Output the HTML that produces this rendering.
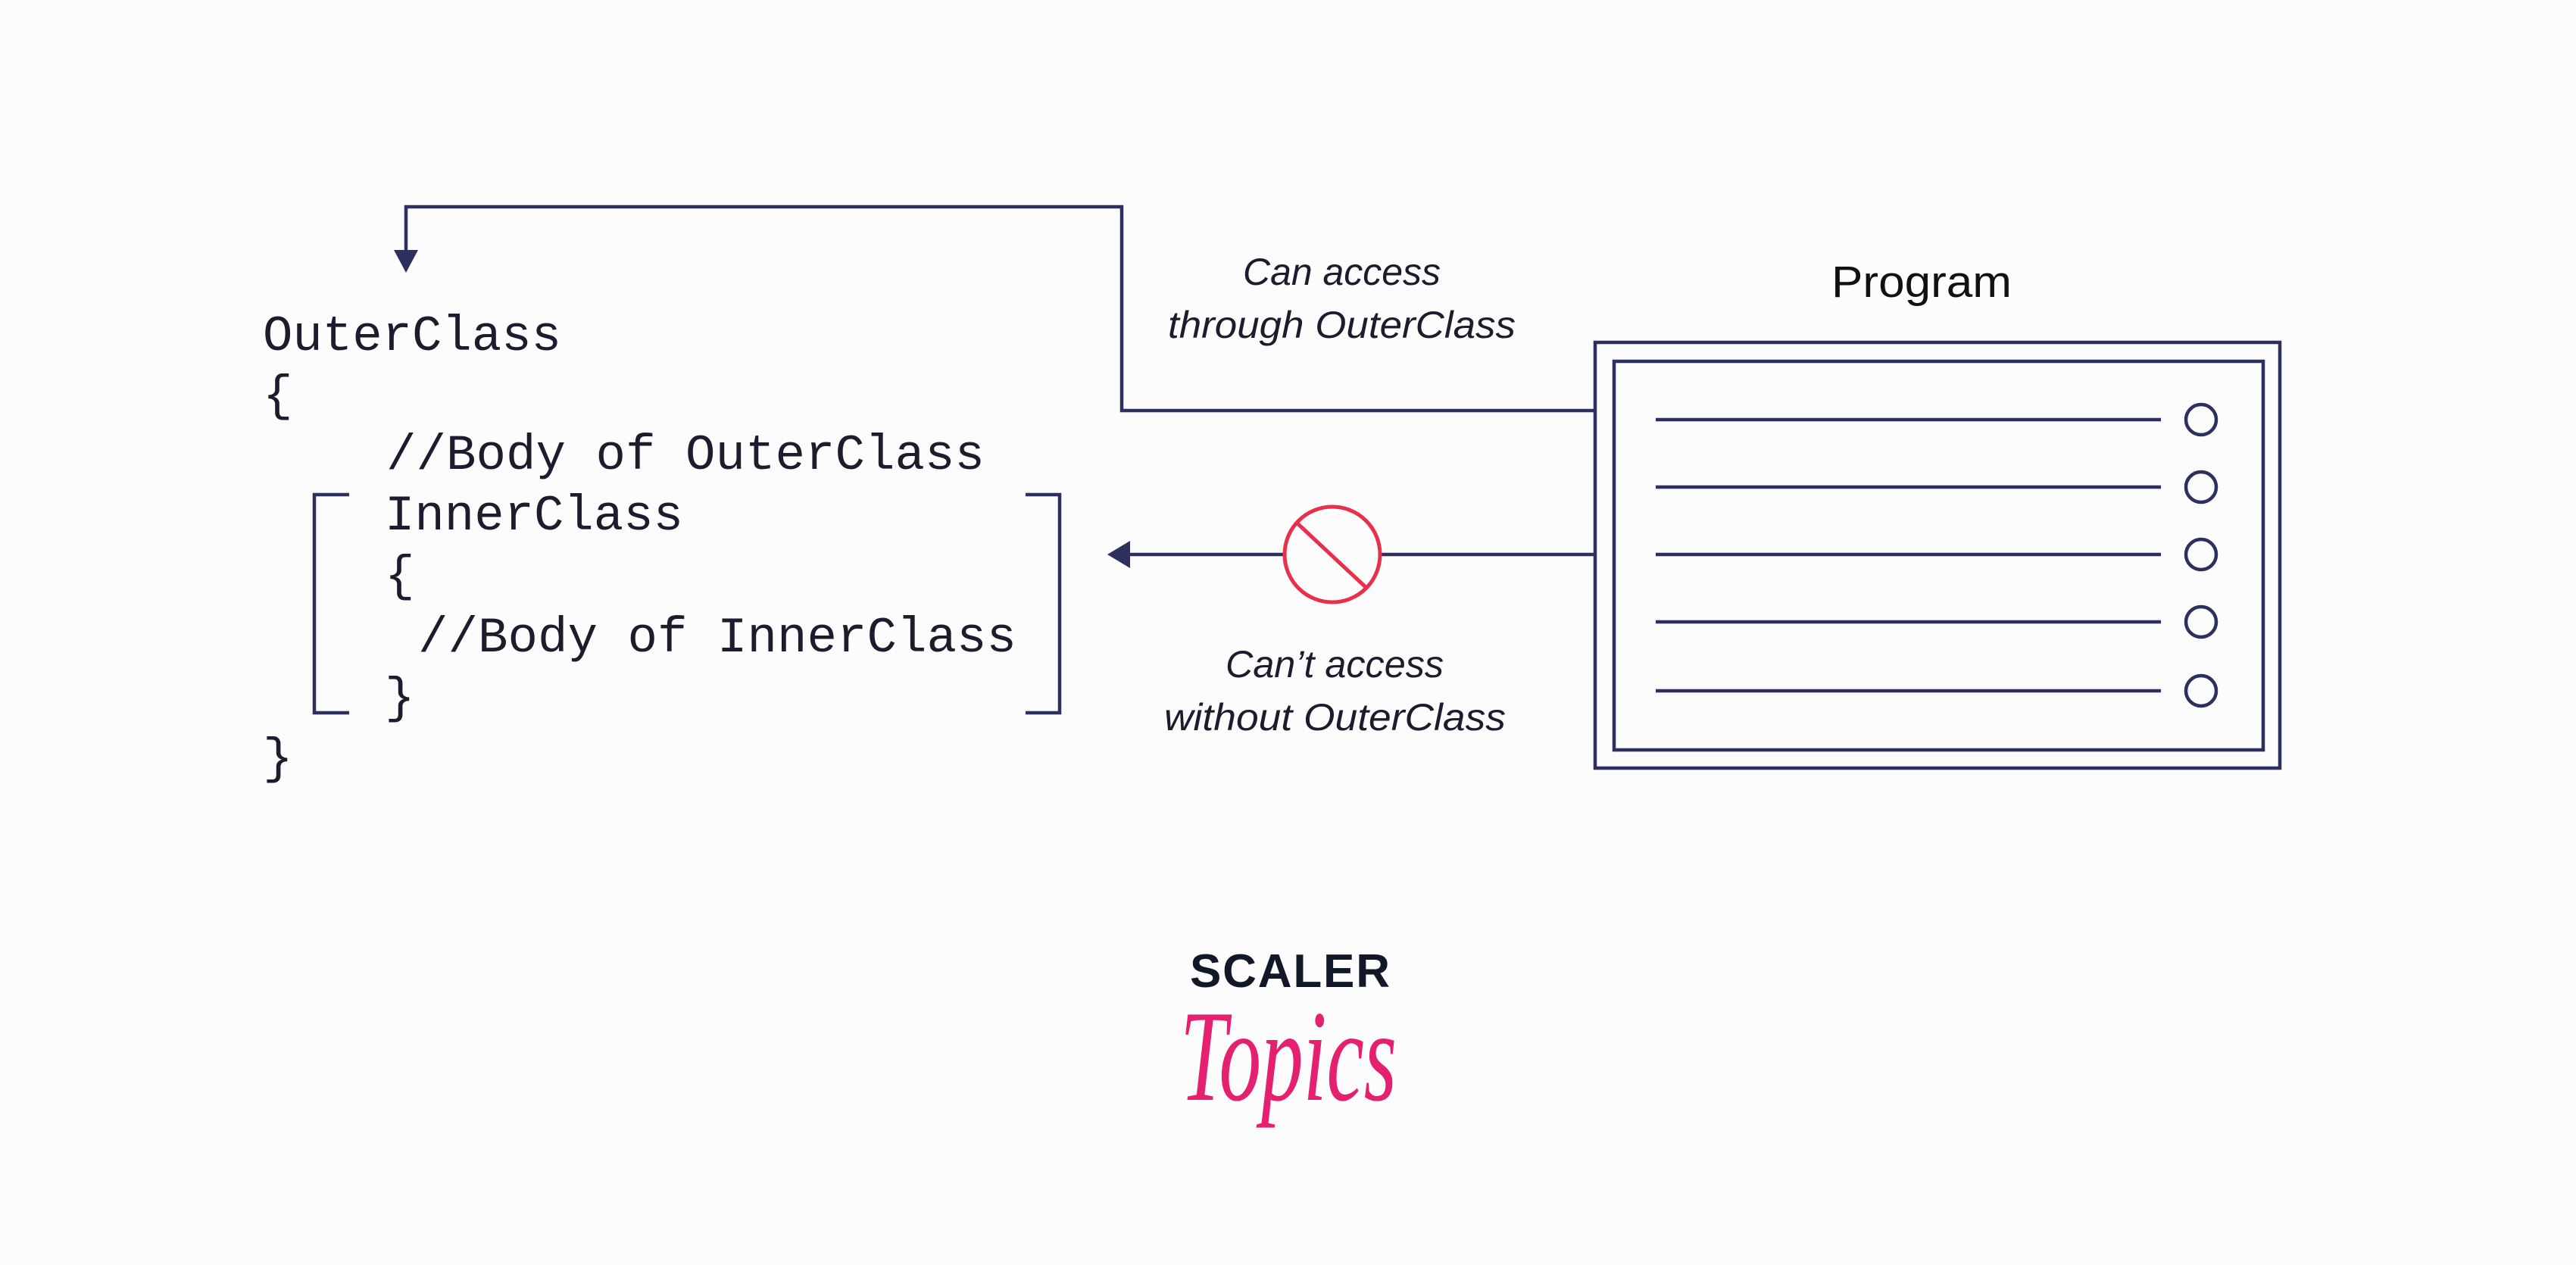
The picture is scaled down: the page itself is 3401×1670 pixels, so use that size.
<!DOCTYPE html>
<html><head><meta charset="utf-8"><style>
html,body{margin:0;padding:0;background:#fcfcfd;}
svg{display:block}
.code{font-family:"Liberation Mono",monospace;font-size:66px;fill:#1b1c2e}
.lab{font-family:"Liberation Sans",sans-serif;font-style:italic;font-size:50px;fill:#1b1c2e}
</style></head><body>
<svg width="3401" height="1670" viewBox="0 0 3401 1670" xmlns="http://www.w3.org/2000/svg">
<rect width="3401" height="1670" fill="#fcfcfd"/>
<g stroke="#2d2f5e" stroke-width="4.5" fill="none">
<polyline points="536,335 536,273 1481,273 1481,542 2106,542"/>
<line x1="1488" y1="732" x2="1695" y2="732"/>
<line x1="1823" y1="732" x2="2106" y2="732"/>
<rect x="2106" y="452" width="904" height="562"/>
<rect x="2131" y="477" width="857" height="513"/>
<line x1="2186" y1="554" x2="2853" y2="554"/>
<line x1="2186" y1="643" x2="2853" y2="643"/>
<line x1="2186" y1="732" x2="2853" y2="732"/>
<line x1="2186" y1="821" x2="2853" y2="821"/>
<line x1="2186" y1="912" x2="2853" y2="912"/>
<circle cx="2906" cy="554" r="20"/>
<circle cx="2906" cy="643" r="20"/>
<circle cx="2906" cy="732" r="20"/>
<circle cx="2906" cy="821" r="20"/>
<circle cx="2906" cy="912" r="20"/>
<polyline points="461,653 415,653 415,941 461,941"/>
<polyline points="1354,653 1399,653 1399,941 1354,941"/>
</g>
<polygon points="520,330 552,330 536,360" fill="#2d2f5e"/>
<polygon points="1462,732 1492,714 1492,750" fill="#2d2f5e"/>
<circle cx="1759" cy="732" r="63" fill="none" stroke="#e8304a" stroke-width="5"/>
<line x1="1713" y1="691" x2="1804" y2="776" stroke="#e8304a" stroke-width="5"/>
<text class="code" x="347" y="462" textLength="394" lengthAdjust="spacingAndGlyphs">OuterClass</text>
<text class="code" x="347" y="541">{</text>
<text class="code" x="510" y="619" textLength="790" lengthAdjust="spacingAndGlyphs">//Body of OuterClass</text>
<text class="code" x="508" y="699" textLength="394" lengthAdjust="spacingAndGlyphs">InnerClass</text>
<text class="code" x="508" y="779">{</text>
<text class="code" x="552" y="860" textLength="790" lengthAdjust="spacingAndGlyphs">//Body of InnerClass</text>
<text class="code" x="508" y="940">}</text>
<text class="code" x="347" y="1020">}</text>
<text class="lab" x="1641" y="376" textLength="261" lengthAdjust="spacingAndGlyphs">Can access</text>
<text class="lab" x="1542" y="446" textLength="459" lengthAdjust="spacingAndGlyphs">through OuterClass</text>
<text class="lab" x="1618" y="894" textLength="288" lengthAdjust="spacingAndGlyphs">Can’t access</text>
<text class="lab" x="1537" y="964" textLength="451" lengthAdjust="spacingAndGlyphs">without OuterClass</text>
<text x="2418" y="392" font-family="Liberation Sans,sans-serif" font-size="58" fill="#111" textLength="238" lengthAdjust="spacingAndGlyphs">Program</text>
<text x="1571" y="1303" font-family="Liberation Sans,sans-serif" font-weight="bold" font-size="62" fill="#111827" textLength="264" lengthAdjust="spacing">SCALER</text>
<text x="1558" y="1452" font-family="Liberation Serif,serif" font-style="italic" font-size="172" fill="#e5206f" textLength="286" lengthAdjust="spacingAndGlyphs">Topics</text>
</svg>
</body></html>
